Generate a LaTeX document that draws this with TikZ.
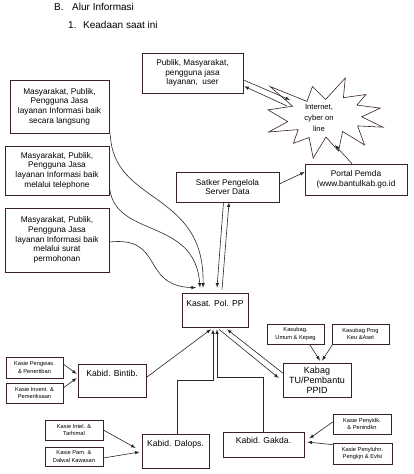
\documentclass[tikz,border=0pt]{standalone}
\usepackage{fontspec}
\setmainfont{Liberation Sans}
\usetikzlibrary{calc,positioning,arrows}
\definecolor{boxline}{RGB}{58,34,34}
\tikzset{
    box/.style={
        rectangle,
        draw=boxline,
        line width=0.6pt,
        align=center,
        inner sep=1pt,
    },
    big text/.style={font=\fontsize{8.3}{9.6}\selectfont},
    mid text/.style={font=\fontsize{8.6}{10}\selectfont},
    small text/.style={font=\fontsize{5.7}{7.8}\selectfont},
    top text/.style={
        box,
        mid text,
        inner ysep=0pt,
    },
    connector/.style={
        -latex,
        line width=0.6pt,
        draw=black!85,
    },
    heading/.style={
        anchor=west,
        font=\fontsize{10}{12}\selectfont,
        inner sep=0pt,
    },
}
\begin{document}
\begin{tikzpicture}[x=1pt,y=-1pt]
        \useasboundingbox (0,0) rectangle (413,474);
        % headings
        \node[heading](hB) at (54,7) {B.};
        \node[heading](hBt) at (72,7) {Alur Informasi};
        \node[heading](h1) at (68,25) {1.};
        \node[heading](h1t) at (83,25) {Keadaan saat ini};

        % public side
        \node[box,big text,minimum width=101pt,minimum height=40pt](pub) at (192.5,73) {Publik, Masyarakat,\\pengguna jasa\\layanan,~ user};
        \node[box,big text,minimum width=99pt,minimum height=53pt](lang) at (59.5,106.5) {Masyarakat, Publik,\\Pengguna Jasa\\layanan Informasi baik\\secara langsung};
        \node[box,big text,minimum width=104pt,minimum height=49pt](telp) at (57,170.5) {Masyarakat, Publik,\\Pengguna Jasa\\layanan Informasi baik\\melalui telephone};
        \node[box,big text,minimum width=104pt,minimum height=64pt](surat) at (57,240) {Masyarakat, Publik,\\Pengguna Jasa\\layanan Informasi baik\\melalui surat\\permohonan};

        % internet
        \draw[boxline,line width=0.6pt,fill=white] (325.5,99.5) -- (345.3,78) -- (343.4,97.7) -- (365.9,94.5)
            -- (356.9,105.1) -- (380.3,108.1) -- (361.7,116.8) -- (383,127.2) -- (357.6,125.9)
            -- (364.6,145) -- (342.6,131.5) -- (338.5,151.1) -- (326,137) -- (313.2,158)
            -- (309.1,137.5) -- (293.4,143.3) -- (298.2,129.6) -- (268.7,132) -- (287.8,121.6)
            -- (268,109.9) -- (292.6,106.2) -- (270,86.5) -- (306.9,101.4) -- (312.5,86.5) -- cycle;
        \node[align=center,inner sep=0pt,font=\fontsize{7.6}{11.2}\selectfont](inet) at (319,118) {Internet,\\cyber on\\line};
        \coordinate (inetW) at (290,100);
        \coordinate (inetW2) at (287,106);
        \coordinate (inetS) at (335,145);

        \node[box,big text,minimum width=103pt,minimum height=30pt](satker) at (227.5,187) {Satker Pengelola\\Server Data};
        \node[box,big text,minimum width=102pt,minimum height=31pt](portal) at (356,179.5) {Portal Pemda\\(www.bantulkab.go.id};

        % organisation
        \node[top text,minimum width=66pt,text height=13pt,text depth=21pt](kasat) at (215,310) {Kasat. Pol. PP};
        \node[top text,minimum width=68pt,text height=12pt,text depth=21pt](bintib) at (112,380.5) {Kabid. Bintib.};
        \node[top text,minimum width=67pt,text height=12pt,text depth=22pt](dalops) at (175.5,451) {Kabid. Dalops.};
        \node[top text,minimum width=81pt,text height=11pt,text depth=14pt](gakda) at (263.5,444.5) {Kabid. Gakda.};
        \node[box,font=\fontsize{9}{10}\selectfont,minimum width=68pt,minimum height=34pt](kabag) at (317,380) {Kabag\\TU/Pembantu\\PPID};

        \node[box,small text,minimum width=57pt,minimum height=21pt](pengwas) at (34.5,367.5) {Kasie Pengwas.\\\& Penertiban};
        \node[box,small text,minimum width=57pt,minimum height=20pt](invent) at (34.5,393) {Kasie Invent. \&\\Pemeriksaan};
        \node[box,small text,minimum width=58pt,minimum height=20pt](intel) at (74,430) {Kasie Intel. \&\\Tarhimal};
        \node[box,small text,minimum width=58pt,minimum height=19pt](pam) at (74,456.5) {Kasie Pam. \&\\Dalwal Kawasan};
        \node[box,small text,minimum width=58pt,minimum height=20pt](penyidk) at (362,424) {Kasie Penyidk.\\\& Penindkn};
        \node[box,small text,minimum width=59pt,minimum height=21pt](penyluhn) at (362.5,453.5) {Kasie Penyluhn.\\Pengkjn \& Evlsi};
        \node[box,small text,minimum width=57pt,minimum height=20pt](umum) at (295.5,334) {Kasubag.\\Umum \& Kepeg};
        \node[box,small text,minimum width=57pt,minimum height=20pt](prog) at (360.5,334) {Kasubag Prog\\Keu \&Aset};

        % connectors, top part
        \draw[connector] ($(pub.south east)+(1,-13)$) -- (inetW);
        \draw[connector] (inetW2) -- ($(pub.south east)+(1,-7)$);
        \draw[connector] ($(portal.north)+(-4,0)$) -- (inetS);
        \draw[connector] ($(satker.east)+(0,-3)$) -- ($(portal.west)+(0,-7.5)$);
        \draw[connector] ($(satker.south)+(-4,0)$) -- ($(kasat.north)+(2,-5)$);
        \draw[connector] ($(kasat.north)+(7,-3)$) -- ($(satker.south)+(1.5,0)$);
        \draw[connector] ($(lang.south east)+(1,1)$) .. controls (113,205) and (205,190) .. ($(kasat.north)+(-12,-5)$);
        \draw[connector] ($(telp.east)+(0,12.5)$) .. controls (110,240) and (195,215) .. ($(kasat.north)+(-15,-5)$);
        \draw[connector] ($(surat.east)+(0,2)$) .. controls (165,236) and (140,286) .. ($(kasat.north)+(-19,-5)$);

        % connectors, bottom part
        \draw[connector] ($(bintib.east)+(0,-3)$) -- ($(kasat.south)+(-4,2)$);
        \draw[connector] ($(dalops.north)+(1.5,0)$) |- ($(kasat.south)+(-2,53)$) -- ($(kasat.south)+(-2,2)$);
        \draw[connector] ($(gakda.north)+(-0.5,0)$) |- ($(kasat.south)+(2,50)$) -- ($(kasat.south)+(2,2)$);
        \draw[connector] ($(kasat.south)+(4,2)$) -- ($(kabag.west)+(-4,-2)$);
        \draw[connector] ($(kabag.west)+(0,-7)$) -- ($(kasat.south)+(12,2)$);
        \draw[connector] ($(umum.south)+(14,0)$) -- ($(kabag.north)+(3,-2)$);
        \draw[connector] ($(prog.south west)+(1,0)$) -- ($(kabag.north)+(5,-2)$);
        \draw[connector] ($(pengwas.east)+(0,-3.5)$) -- ($(bintib.west)+(-1,-6.5)$);
        \draw[connector] ($(invent.east)+(0,-5)$) -- ($(bintib.west)+(-1,-2.5)$);
        \draw[connector] (intel.east) -- ($(dalops.west)+(-6,-3)$);
        \draw[connector] ($(pam.east)+(0,1.5)$) -- ($(dalops.west)+(-2,1)$);
        \draw[connector] ($(penyidk.west)+(0,-2)$) -- ($(gakda.east)+(5,-6)$);
        \draw[connector] ($(penyluhn.north west)+(0,2)$) -- ($(gakda.east)+(3,-2.5)$);
    \end{tikzpicture}
\end{document}
